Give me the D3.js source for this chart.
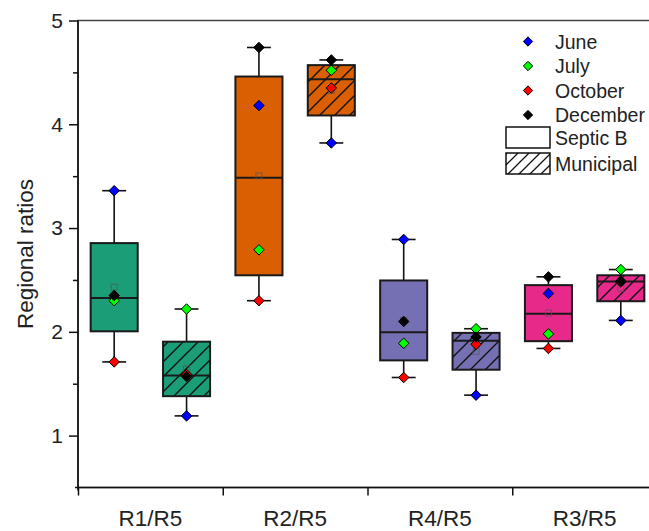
<!DOCTYPE html>
<html>
<head>
<meta charset="utf-8">
<script src="https://cdn.jsdelivr.net/npm/d3@7"></script>
<style>
  html, body { margin: 0; padding: 0; background: #fff; }
  svg { display: block; font-family: "Liberation Sans", Arial, sans-serif; }
</style>
</head>
<body>
<svg id="chart" width="649" height="531"></svg>
<script>
// Regional ratios per catchment pair, by sampling month and sewer type
const categories = ["R1/R5", "R2/R5", "R4/R5", "R3/R5"];
const months = ["June", "July", "October", "December"];
const sewerTypes = ["Septic B", "Municipal"];
const yTicks = [1, 2, 3, 4, 5];

const septicJune      = [3.36, 4.18, 2.89, 2.37];
const septicJuly      = [2.30, 2.79, 1.89, 1.98];
const septicOctober   = [1.71, 2.30, 1.56, 1.84];
const septicDecember  = [2.35, 4.74, 2.10, 2.53];

const municipalJune     = [1.19, 3.82, 1.39, 2.11];
const municipalJuly     = [2.22, 4.52, 2.03, 2.60];
const municipalOctober  = [1.59, 4.35, 1.88, 2.48];
const municipalDecember = [1.57, 4.62, 1.95, 2.49];

const groupColors = ["#1b9e77", "#d95f02", "#7570b3", "#e7298a"];
const monthColors = ["#0000ff", "#00ff00", "#ff0000", "#000000"];

const seriesByType = {
  "Septic B": [septicJune, septicJuly, septicOctober, septicDecember],
  "Municipal": [municipalJune, municipalJuly, municipalOctober, municipalDecember]
};

// percentile at rank n*p + 0.5 (1-based), linear between neighbours
function percentile(sorted, p) {
  const n = sorted.length;
  const h = n * p + 0.5;
  if (h <= 1) return sorted[0];
  if (h >= n) return sorted[n - 1];
  const lo = Math.floor(h);
  return sorted[lo - 1] + (h - lo) * (sorted[lo] - sorted[lo - 1]);
}

const boxes = [];
categories.forEach((cat, ci) => {
  sewerTypes.forEach((type, ti) => {
    const vals = seriesByType[type].map(s => s[ci]);
    const sorted = vals.slice().sort(d3.ascending);
    boxes.push({
      cat, ci, type, ti, vals,
      min: sorted[0], max: sorted[sorted.length - 1],
      q1: percentile(sorted, 0.25), med: percentile(sorted, 0.5), q3: percentile(sorted, 0.75),
      mean: d3.mean(vals)
    });
  });
});

const svg = d3.select("#chart");
const plotL = 78, plotR = 657, plotT = 20.5, plotB = 487.5;

const x = d3.scaleLinear().domain([0.5, categories.length + 0.5]).range([plotL, plotR]);
const y = d3.scaleLinear().domain([0.5, 5]).range([plotB, plotT]);

const typeOffset = [-0.25, 0.25];
const boxW = x(0.325) - x(0);
const capW = x(0.165) - x(0);

// hatch for municipal boxes
const defs = svg.append("defs");
const pat = defs.append("pattern")
  .attr("id", "hatch").attr("patternUnits", "userSpaceOnUse")
  .attr("width", 15).attr("height", 15);
pat.append("path")
  .attr("d", "M-3.75,3.75L3.75,-3.75M0,15L15,0M11.25,18.75L18.75,11.25")
  .attr("stroke", "#111").attr("stroke-width", 1.4);
const patL = defs.append("pattern")
  .attr("id", "hatchLegend").attr("patternUnits", "userSpaceOnUse")
  .attr("width", 11).attr("height", 11);
patL.append("path")
  .attr("d", "M-2.75,2.75L2.75,-2.75M0,11L11,0M8.25,13.75L13.75,8.25")
  .attr("stroke", "#111").attr("stroke-width", 1.3);

// frame
svg.append("rect")
  .attr("x", plotL).attr("y", plotT)
  .attr("width", plotR - plotL).attr("height", plotB - plotT)
  .attr("fill", "none").attr("stroke", "#444").attr("stroke-width", 1.5);

// y axis
const yAxis = d3.axisLeft(y).tickValues(yTicks).tickSize(9).tickPadding(6).tickFormat(d3.format("d"));
const gy = svg.append("g").attr("transform", `translate(${plotL},0)`).call(yAxis);
gy.select(".domain").remove();
gy.selectAll(".tick line").attr("stroke", "#111").attr("stroke-width", 1.5);
gy.selectAll(".tick text").attr("font-size", 21).attr("fill", "#222")
  .attr("font-family", "'Liberation Sans', Arial, sans-serif");
const yMinor = d3.axisLeft(y).tickValues([1.5, 2.5, 3.5, 4.5]).tickSize(5).tickFormat("");
const gyMinor = svg.append("g").attr("transform", `translate(${plotL},0)`).call(yMinor);
gyMinor.select(".domain").remove();
gyMinor.selectAll(".tick line").attr("stroke", "#111").attr("stroke-width", 1.5);
svg.append("line").attr("x1", plotL).attr("x2", plotL).attr("y1", plotT).attr("y2", plotB + 3)
  .attr("stroke", "#111").attr("stroke-width", 1.6);

// x axis: boundary ticks plus centred category names
const xAxis = d3.axisBottom(x).tickValues(d3.range(0.5, categories.length, 1)).tickSize(8).tickFormat("");
const gx = svg.append("g").attr("transform", `translate(0,${plotB})`).call(xAxis);
gx.select(".domain").remove();
gx.selectAll(".tick line").attr("stroke", "#111").attr("stroke-width", 1.5);
svg.append("line").attr("x1", plotL - 3).attr("x2", plotR).attr("y1", plotB).attr("y2", plotB)
  .attr("stroke", "#111").attr("stroke-width", 1.6);
svg.append("g").selectAll("text").data(categories).join("text")
  .attr("x", (d, i) => x(i + 1)).attr("y", 526)
  .attr("text-anchor", "middle").attr("font-size", 22.5).attr("fill", "#222")
  .text(d => d);

// y title
svg.append("text")
  .attr("transform", `translate(33,${(plotT + plotB) / 2}) rotate(-90)`)
  .attr("text-anchor", "middle").attr("font-size", 22.5).attr("fill", "#222")
  .text("Regional ratios");

// boxes
const bx = d => x(d.ci + 1 + typeOffset[d.ti]);
const gBoxes = svg.append("g").selectAll("g").data(boxes).join("g");
gBoxes.append("line")
  .attr("x1", bx).attr("x2", bx).attr("y1", d => y(d.max)).attr("y2", d => y(d.q3))
  .attr("stroke", "#111").attr("stroke-width", 1.6);
gBoxes.append("line")
  .attr("x1", bx).attr("x2", bx).attr("y1", d => y(d.q1)).attr("y2", d => y(d.min))
  .attr("stroke", "#111").attr("stroke-width", 1.6);
gBoxes.append("line")
  .attr("x1", d => bx(d) - capW / 2).attr("x2", d => bx(d) + capW / 2)
  .attr("y1", d => y(d.max)).attr("y2", d => y(d.max))
  .attr("stroke", "#111").attr("stroke-width", 1.6);
gBoxes.append("line")
  .attr("x1", d => bx(d) - capW / 2).attr("x2", d => bx(d) + capW / 2)
  .attr("y1", d => y(d.min)).attr("y2", d => y(d.min))
  .attr("stroke", "#111").attr("stroke-width", 1.6);
gBoxes.append("rect")
  .attr("x", d => bx(d) - boxW / 2).attr("width", boxW)
  .attr("y", d => y(d.q3)).attr("height", d => y(d.q1) - y(d.q3))
  .attr("fill", d => groupColors[d.ci]);
gBoxes.filter(d => d.type === "Municipal").append("rect")
  .attr("x", d => bx(d) - boxW / 2).attr("width", boxW)
  .attr("y", d => y(d.q3)).attr("height", d => y(d.q1) - y(d.q3))
  .attr("fill", "url(#hatch)");
gBoxes.append("rect")
  .attr("x", d => bx(d) - boxW / 2).attr("width", boxW)
  .attr("y", d => y(d.q3)).attr("height", d => y(d.q1) - y(d.q3))
  .attr("fill", "none").attr("stroke", "#1a1a1a").attr("stroke-width", 2);
gBoxes.append("line")
  .attr("x1", d => bx(d) - boxW / 2).attr("x2", d => bx(d) + boxW / 2)
  .attr("y1", d => y(d.med)).attr("y2", d => y(d.med))
  .attr("stroke", "#1a1a1a").attr("stroke-width", 2);
// mean marker
gBoxes.append("rect")
  .attr("x", d => bx(d) - 3).attr("y", d => y(d.mean) - 3)
  .attr("width", 6).attr("height", 6)
  .attr("fill", "none").attr("stroke", "#555").attr("stroke-opacity", 0.75).attr("stroke-width", 1);

// monthly points
const diamond = d3.symbol().type(d3.symbolDiamond2).size(70);
const points = [];
boxes.forEach(b => b.vals.forEach((v, mi) => points.push({ b, mi, v })));
svg.append("g").selectAll("path").data(points).join("path")
  .attr("d", diamond)
  .attr("transform", d => `translate(${bx(d.b)},${y(d.v)})`)
  .attr("fill", d => monthColors[d.mi])
  .attr("stroke", "#000").attr("stroke-width", 1);

// legend
const lg = svg.append("g");
const legendRowY = d3.scaleLinear().domain([0, 1]).range([41.5, 66]);
months.forEach((m, i) => {
  lg.append("path").attr("d", d3.symbol().type(d3.symbolDiamond2).size(55))
    .attr("transform", `translate(528,${legendRowY(i)})`)
    .attr("fill", monthColors[i]).attr("stroke", "#000").attr("stroke-width", 1);
  lg.append("text").attr("x", 555).attr("y", legendRowY(i)).attr("dy", "0.36em")
    .attr("font-size", 19.5).attr("fill", "#222").text(m);
});
sewerTypes.forEach((t, i) => {
  const yy = 127 + i * 26;
  lg.append("rect").attr("x", 506).attr("y", yy).attr("width", 44).attr("height", 21)
    .attr("fill", i === 1 ? "url(#hatchLegend)" : "#fff")
    .attr("stroke", "#111").attr("stroke-width", 1.5);
  lg.append("text").attr("x", 555).attr("y", yy + 10.5).attr("dy", "0.36em")
    .attr("font-size", 19.5).attr("fill", "#222").text(t);
});
</script>
</body>
</html>
